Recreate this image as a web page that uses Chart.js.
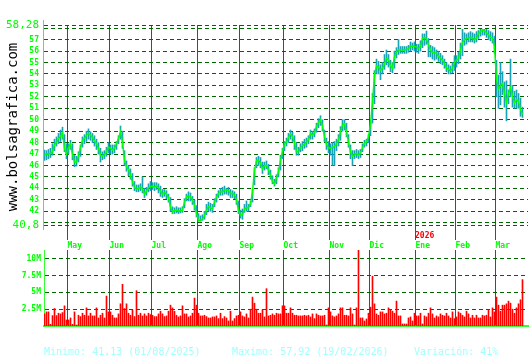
<!DOCTYPE html>
<html><head><meta charset="utf-8">
<script src="https://cdn.jsdelivr.net/npm/chart.js@4"></script>
<style>
html,body{margin:0;padding:0;background:#fff;}
#wrap{position:relative;width:530px;height:360px;overflow:hidden;background:#fff;}
canvas{position:absolute;left:0;}
#c1{top:0;}
#c2{top:240px;}
.t{position:absolute;font-family:"DejaVu Sans Mono",monospace;white-space:pre;margin:0;}
#site{left:-88px;top:119px;width:200px;height:16px;line-height:16px;text-align:center;font-size:14px;color:#000;transform:rotate(-90deg);}
#yr{left:415px;top:231px;font-size:8px;line-height:10px;font-weight:bold;color:#ff0000;}
.ft{top:346px;font-size:10px;line-height:12px;color:#a0ffff;}
</style></head><body>
<div id="wrap">
<canvas id="c1" width="530" height="250"></canvas>
<canvas id="c2" width="530" height="100"></canvas>
<div class="t" id="site">www.bolsagrafica.com</div>
<div class="t" id="yr">2026</div>
<div class="t ft" style="left:44px">Minimo: 41,13 (01/08/2025)</div>
<div class="t ft" style="left:232px">Maximo: 57,92 (19/02/2026)</div>
<div class="t ft" style="left:414px">Variación: 41%</div>
</div>
<script>
const monthLabels = ['May','Jun','Jul','Ago','Sep','Oct','Nov','Dic','Ene','Feb','Mar'];
const monthStart = [12,33,54,77,98,120,143,163,186,206,226];
const priceTicks = [40.8,41,42,43,44,45,46,47,48,49,50,51,52,53,54,55,56,57,58,58.28];
const priceTickLabels = ['40,8','','42','43','44','45','46','47','48','49','50','51','52','53','54','55','56','57','','58,28'];
const volTicks = [2.5,5,7.5,10];
const volTickLabels = ['2.5M','5M','7.5M','10M'];

const close = [
46.9,47.0,47.0,47.05,47.2,47.8,48.05,48.35,48.55,48.85,47.5,47.0,
47.6,47.85,47.0,46.3,46.3,46.8,47.6,48.2,48.35,48.65,48.8,48.65,48.45,48.15,47.9,47.5,46.9,46.8,46.95,47.2,47.6,
47.5,47.35,47.5,47.9,48.35,48.95,48.05,46.45,45.9,45.65,45.15,44.55,44.1,43.95,44.0,44.1,43.95,43.5,43.75,44.05,44.15,
44.2,44.1,44.25,44.05,43.75,43.5,43.65,43.5,43.2,42.35,41.95,42.05,42.1,42.0,42.05,42.1,42.8,43.25,43.3,43.25,43.0,42.5,41.85,
41.2,41.2,41.3,41.6,42.1,42.4,42.3,42.2,42.8,43.25,43.55,43.75,43.7,43.85,43.85,43.8,43.55,43.55,43.45,43.0,42.1,
41.65,41.7,42.2,42.3,42.3,42.65,43.7,45.6,46.4,46.45,46.2,45.7,46.0,46.0,45.6,45.15,44.6,44.4,44.9,45.45,46.45,47.2,
47.9,48.05,48.45,48.75,48.5,48.0,47.2,47.2,47.55,47.75,47.85,48.05,48.25,48.8,48.65,48.85,49.4,49.75,50.0,49.45,48.55,47.85,47.55,
47.5,47.6,47.65,47.9,48.2,48.95,49.55,49.65,48.95,48.05,47.2,46.8,46.95,47.05,46.9,47.1,47.55,47.95,48.05,48.5,
49.65,51.55,53.9,54.7,54.6,54.3,54.5,54.9,55.35,55.25,54.7,54.5,55.5,55.95,56.1,56.1,56.1,56.1,56.15,56.2,56.4,56.45,56.4,
56.35,56.25,56.4,57.1,57.2,57.05,56.55,56.1,55.9,55.85,55.8,55.55,55.4,55.2,54.9,54.5,54.4,54.25,54.5,55.0,
55.25,55.3,56.1,56.75,57.0,57.1,57.15,57.2,57.15,57.0,57.15,57.55,57.7,57.85,57.75,57.6,57.4,57.2,57.15,56.4,
53.5,52.7,53.0,53.15,52.35,51.5,52.3,52.8,52.05,51.45,51.75,51.6,50.9,50.45
];
const low = [
46.45,46.5,46.6,46.7,46.9,47.3,47.7,47.9,48.1,48.3,47.2,46.6,
47.0,47.4,46.5,45.9,45.95,46.3,46.8,47.6,47.9,48.1,48.3,48.2,48.0,47.7,47.4,47.0,46.3,46.5,46.6,46.8,47.1,
47.0,47.0,47.1,47.4,47.9,48.3,47.5,46.0,45.5,45.1,44.8,44.2,43.8,43.7,43.7,43.8,43.6,43.2,43.4,43.7,43.8,
43.9,43.8,43.9,43.6,43.3,43.2,43.3,43.1,42.8,42.0,41.8,41.8,41.85,41.8,41.85,41.9,42.3,42.9,42.9,42.9,42.6,42.1,41.5,
41.13,41.15,41.2,41.3,41.7,42.0,42.0,41.9,42.4,42.8,43.2,43.4,43.4,43.5,43.5,43.4,43.2,43.2,43.1,42.6,41.8,
41.4,41.3,41.9,42.0,42.0,42.4,42.8,44.3,45.8,46.0,45.8,45.3,45.6,45.7,45.2,44.8,44.4,44.2,44.4,45.0,45.6,46.6,
47.3,47.7,48.0,48.3,48.1,47.4,46.9,46.9,47.2,47.3,47.5,47.6,47.9,48.3,48.3,48.5,48.9,49.3,49.5,49.0,48.1,47.4,47.1,
46.9,46.0,46.0,47.3,47.7,48.2,49.0,49.1,48.5,47.6,46.6,46.0,46.6,46.7,46.6,46.7,47.2,47.6,47.7,48.0,
48.6,49.7,51.4,54.0,54.0,53.5,54.0,54.4,54.8,54.6,54.2,54.1,54.5,55.4,55.7,55.8,55.8,55.8,55.8,55.9,56.0,56.1,56.0,
55.9,55.8,56.0,56.3,56.5,56.6,55.5,55.5,55.3,55.2,55.3,55.1,54.9,54.8,54.5,54.2,54.0,54.0,54.1,54.3,
54.6,54.9,55.3,55.6,56.5,56.6,56.8,56.8,56.8,56.7,56.8,57.1,57.3,57.4,57.4,57.2,57.0,56.9,56.7,55.8,
52.0,51.0,51.3,52.2,51.1,49.9,51.4,52.0,51.1,51.0,51.0,51.0,50.3,50.2
];
const high = [
47.35,47.3,47.4,47.5,47.9,48.3,48.5,48.8,49.1,49.35,48.7,47.9,
47.9,48.2,47.9,46.9,46.8,47.2,47.8,48.5,48.7,49.0,49.2,48.95,48.8,48.6,48.3,48.0,47.5,47.2,47.3,47.6,48.0,
47.8,47.8,47.8,48.1,48.6,49.45,49.0,47.3,46.4,46.0,45.7,45.3,44.6,44.3,44.3,44.4,45.0,44.0,44.1,44.4,44.6,
44.5,44.5,44.5,44.4,44.2,43.9,43.9,43.8,43.5,43.2,42.4,42.3,42.4,42.3,42.3,42.4,43.1,43.5,43.7,43.6,43.3,43.0,42.5,
41.8,41.6,41.7,42.0,42.6,42.8,42.7,42.6,43.1,43.5,43.8,44.0,44.1,44.2,44.0,44.1,43.9,43.8,43.7,43.5,42.9,
42.1,42.2,42.6,42.9,42.6,42.9,43.9,45.8,46.7,46.8,46.7,46.3,46.3,46.4,46.1,45.6,45.1,44.8,45.2,45.8,46.9,47.5,
48.1,48.4,48.8,49.1,48.9,48.6,48.0,47.6,47.9,48.1,48.3,48.4,48.6,49.1,49.0,49.2,49.7,50.1,50.35,50.0,49.1,48.4,48.1,
47.9,48.0,48.1,48.3,48.7,49.4,50.0,50.0,49.7,48.7,47.8,47.3,47.3,47.4,47.3,47.4,47.9,48.2,48.3,48.7,
49.9,52.3,54.3,55.3,55.1,54.8,55.0,55.7,56.1,55.7,55.2,55.0,56.0,56.3,57.0,56.4,56.4,56.4,56.4,56.5,56.8,56.7,56.8,
56.6,56.6,56.9,57.5,57.5,57.75,57.1,56.5,56.4,56.3,56.1,56.0,55.8,55.6,55.3,55.0,54.8,54.7,55.0,55.6,
55.6,55.9,56.7,57.9,57.6,57.5,57.6,57.7,57.6,57.5,57.7,57.8,57.9,57.92,57.9,57.9,57.8,57.7,57.6,57.3,
55.2,53.9,55.0,54.2,53.3,53.4,52.6,55.3,53.0,52.5,52.6,52.3,51.9,51.1
];
const volume = [
1.8,2.1,2.1,0.25,1.55,2.6,1.55,1.9,1.8,2.0,3.0,0.9,
0.9,1.2,0.25,2.1,0.15,1.6,1.4,1.9,1.6,2.7,1.5,1.9,1.5,1.5,2.7,1.2,1.6,1.9,1.2,4.45,2.1,
2.1,1.6,1.2,1.2,1.8,3.3,6.2,2.6,3.3,1.9,1.6,2.4,1.4,5.25,1.6,1.9,1.5,1.8,1.5,1.9,1.7,
1.6,1.4,1.4,1.8,2.2,1.8,1.4,1.5,2.2,3.1,2.7,2.2,1.6,1.35,1.5,3.0,1.8,1.8,1.35,1.5,1.9,4.15,3.1,
1.9,1.5,1.5,1.6,1.4,1.2,1.2,1.35,1.35,1.5,1.1,1.9,1.1,1.4,1.2,0.75,2.2,0.75,1.1,1.5,1.6,
2.1,1.5,1.35,1.8,1.2,2.5,4.3,3.4,2.5,1.9,1.9,2.4,1.35,5.55,1.5,1.6,1.8,1.6,1.9,1.8,1.8,3.0,
3.0,1.9,1.9,2.7,1.9,1.6,1.6,1.5,1.5,1.5,1.6,1.5,1.6,1.35,1.8,1.1,1.8,1.6,1.5,1.5,1.6,0.15,2.7,
2.1,1.5,1.35,1.5,1.8,2.7,2.7,1.6,1.6,1.5,2.7,1.8,0.15,2.7,11.3,1.2,1.2,0.75,1.05,1.9,
2.8,7.4,3.3,1.8,1.6,2.1,2.1,1.8,1.9,2.7,2.4,2.2,1.9,3.7,1.5,1.5,0.3,0.3,0.3,1.2,1.35,0.75,1.9,
1.5,1.5,1.9,0.3,1.5,1.35,1.9,2.7,1.8,1.2,1.5,1.35,1.8,1.6,1.5,1.9,1.5,1.2,2.1,1.1,
1.35,2.1,1.9,1.6,1.35,2.2,1.8,1.2,1.6,1.2,1.6,1.2,1.2,1.6,1.5,1.6,2.4,1.35,2.7,2.1,
4.3,3.1,2.2,3.1,3.1,3.3,3.7,3.4,2.5,1.9,2.7,3.3,3.9,6.9
];

const MONO = 'DejaVu Sans Mono';
const LIGHT = '#33ff33';
const LABEL = '#00ff00';
const MONTHLINE = '#008000';
const DASHLINE = '#006400';
const xMin = -0.25, xMax = 241.75;

function monthAxis(showLabels, h) {
  return {
    type: 'linear', min: xMin, max: xMax, bounds: 'data', offset: false,
    afterBuildTicks: s => { s.ticks = monthStart.map(v => ({value: v - 0.5})); },
    afterFit: s => { s.height = h; },
    ticks: {
      display: showLabels, autoSkip: false, maxRotation: 0, align: 'start', padding: 1,
      color: LABEL, font: {family: MONO, size: 8, weight: 'bold'},
      callback: (v, i) => monthLabels[i]
    },
    grid: {color: MONTHLINE, lineWidth: 1, offset: false, drawTicks: showLabels, tickLength: 15, tickColor: MONTHLINE},
    border: {display: !showLabels, color: LIGHT, width: 2}
  };
}

const axisExt = {
  id: 'axisExt',
  afterDraw(c) {
    const a = c.chartArea, ctx = c.ctx;
    ctx.save();
    ctx.strokeStyle = LIGHT; ctx.lineWidth = 1;
    ctx.beginPath();
    ctx.moveTo(a.left - 0.5, a.top - 5);
    ctx.lineTo(a.left - 0.5, a.bottom + 5);
    ctx.stroke();
    ctx.restore();
  }
};

new Chart(document.getElementById('c1'), {
  type: 'bar',
  data: {
    datasets: [
      {type: 'line', order: 0, data: close.map((v, i) => ({x: i, y: v})),
       borderColor: '#00ff00', borderWidth: 1.5, pointRadius: 0, tension: 0, fill: false},
      {type: 'bar', order: 1, data: close.map((v, i) => ({x: i, y: [low[i], high[i]]})),
       backgroundColor: '#1aa3b8', borderWidth: 0, barThickness: 1, grouped: false}
    ]
  },
  options: {
    responsive: false, animation: false, devicePixelRatio: 1,
    layout: {padding: {top: 25, right: 2, left: 0, bottom: 0}},
    plugins: {legend: {display: false}, tooltip: {enabled: false}},
    scales: {
      x: monthAxis(true, 25),
      y: {
        type: 'linear', min: 40.8, max: 58.28, bounds: 'data',
        afterBuildTicks: s => { s.ticks = priceTicks.map(v => ({value: v})); },
        afterFit: s => { s.width = 44; },
        ticks: {
          autoSkip: false, padding: 5, color: LABEL,
          font: ctx => (ctx.tick && (ctx.tick.value === priceTicks[0] || ctx.tick.value === priceTicks[priceTicks.length - 1]))
            ? {family: MONO, size: 11} : {family: MONO, size: 8, weight: 'bold'},
          callback: (v, i) => priceTickLabels[i]
        },
        grid: {color: DASHLINE, lineWidth: 1, drawTicks: false},
        border: {display: false, dash: [4, 3]}
      }
    }
  },
  plugins: [axisExt]
});

new Chart(document.getElementById('c2'), {
  type: 'bar',
  data: {
    datasets: [
      {data: volume.map((v, i) => ({x: i, y: v})), backgroundColor: '#ff0000',
       borderWidth: 0, barThickness: 1, grouped: false}
    ]
  },
  options: {
    responsive: false, animation: false, devicePixelRatio: 1,
    layout: {padding: {top: 10, right: 2, left: 0, bottom: 0}},
    plugins: {legend: {display: false}, tooltip: {enabled: false}},
    scales: {
      x: monthAxis(false, 14),
      y: {
        type: 'linear', min: 0, max: 11.3, bounds: 'data',
        afterBuildTicks: s => { s.ticks = volTicks.map(v => ({value: v})); },
        afterFit: s => { s.width = 44; },
        ticks: {autoSkip: false, padding: 3, color: LABEL,
          font: {family: MONO, size: 8, weight: 'bold'},
          callback: (v, i) => volTickLabels[i]},
        grid: {color: DASHLINE, lineWidth: 1, drawTicks: false},
        border: {display: true, color: LIGHT, width: 1, dash: [4, 3]}
      }
    }
  }
});
</script>
</body></html>
